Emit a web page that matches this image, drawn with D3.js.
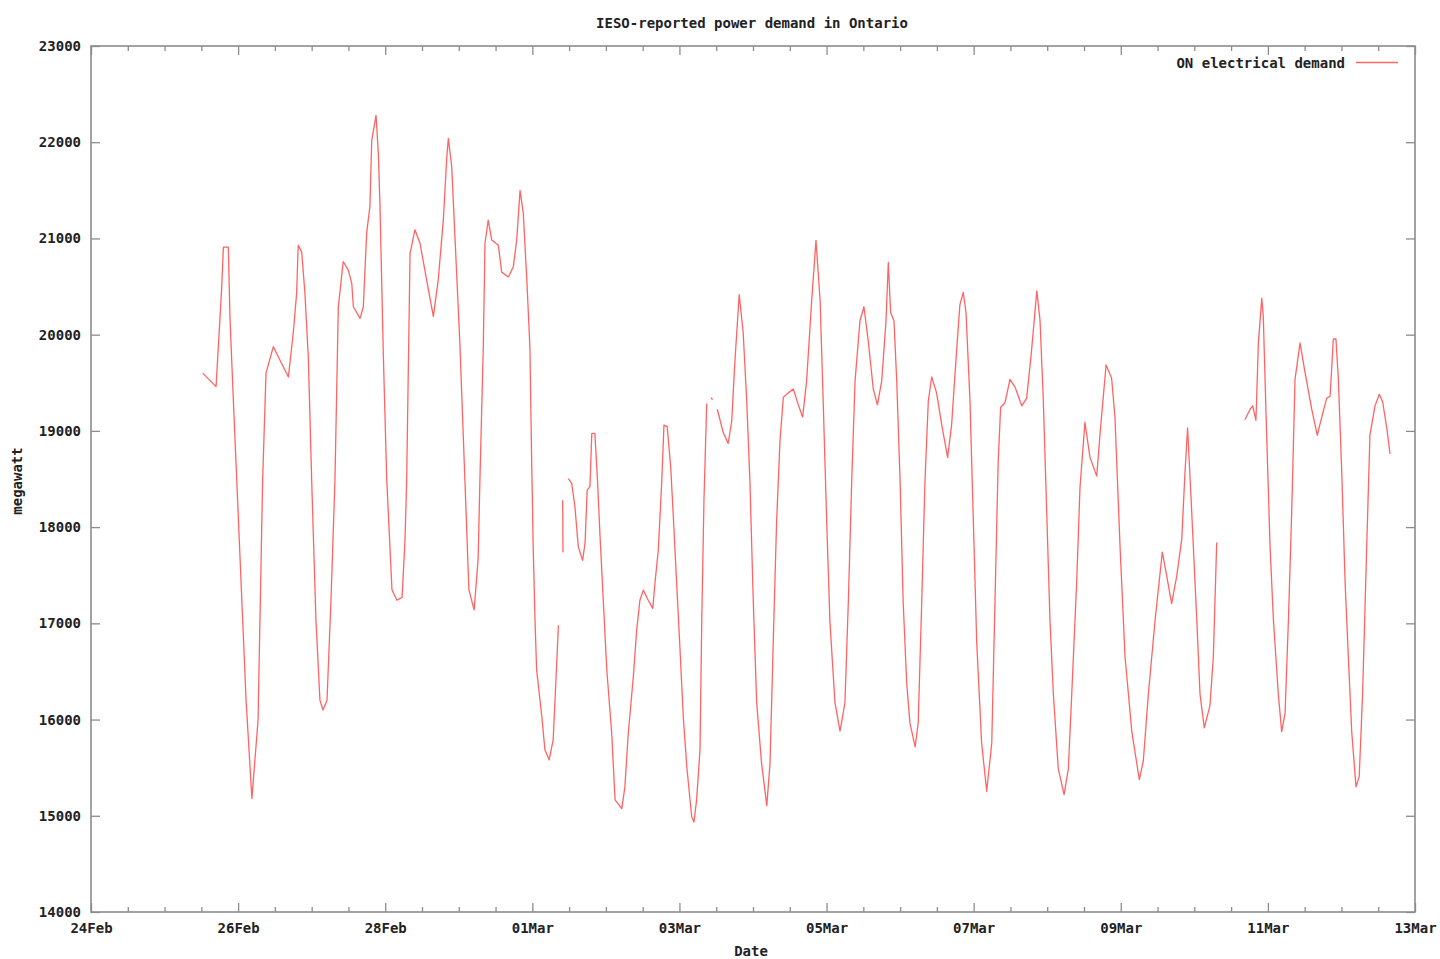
<!DOCTYPE html>
<html>
<head>
<meta charset="utf-8">
<script src="https://cdn.jsdelivr.net/npm/d3@7/dist/d3.min.js"></script>
<style>
  html, body { margin: 0; padding: 0; background: #fff; }
  svg { display: block; }
  text { font-family: "DejaVu Sans Mono", "Liberation Mono", monospace; font-weight: bold; fill: #222; }
</style>
</head>
<body>
<svg id="chart" width="1440" height="959"></svg>
<script>
// ---- Data (hours after 24 Feb 2008 00:00, megawatt) ----
const startDate = "2008-02-24T00:00:00Z";
const endDate = "2008-03-13T00:00:00Z";
const titleText = "IESO-reported power demand in Ontario";
const seriesName = "ON electrical demand";
const xLabel = "Date";
const yLabel = "megawatt";
const yTicks = [14000, 15000, 16000, 17000, 18000, 19000, 20000, 21000, 22000, 23000];
const xTickLabels = ["24Feb", "26Feb", "28Feb", "01Mar", "03Mar", "05Mar", "07Mar", "09Mar", "11Mar", "13Mar"];

const seg1 = [
  [36.45,19600],[40.8,19460],[42.6,20460],[43.2,20910],[44.8,20910],[45.35,20170],[46.4,19355],
  [50.6,16200],[52.5,15180],[54.5,15990],[56.0,18490],[57.1,19600],[59.5,19875],[61.1,19770],
  [64.4,19560],[66.0,20020],[67.1,20430],[67.6,20930],[68.75,20860],[69.8,20430],[70.9,19770],
  [72.0,18490],[73.4,17030],[74.7,16200],[75.7,16100],[77.0,16200],[78.3,17240],[79.6,18490],
  [80.7,20290],[82.3,20760],[83.95,20670],[85.1,20530],[85.6,20290],[87.8,20170],[88.85,20290],
  [89.95,21060],[91.0,21330],[91.6,22020],[93.0,22280],[93.75,21885],[94.3,21330],[95.4,19770],
  [96.5,18490],[98.2,17350],[99.8,17240],[101.5,17270],[102.45,17865],[103.0,18490],[104.1,20845],
  [105.7,21090],[107.35,20950],[109.5,20570],[111.7,20190],[113.3,20570],[114.95,21190],
  [116.1,21850],[116.6,22040],[117.7,21745],[118.8,20985],[120.4,19875],[122.0,18490],
  [123.3,17350],[125.0,17140],[126.3,17660],[126.9,18490],[128.0,19875],[128.55,20950],
  [129.6,21190],[130.75,20985],[132.9,20930],[134.0,20650],[136.2,20600],[137.8,20705],
  [138.9,20985],[140.0,21500],[141.05,21260],[142.2,20570],[143.2,19875],[143.8,18665],
  [144.3,17760],[144.9,17000],[145.4,16515],[147.1,16030],[148.1,15685],[149.5,15580],
  [150.8,15790],[151.4,16200],[152.15,16720],[152.5,16980]
];
const seg2 = [[153.9,18280],[154.0,17740]];
const seg3 = [
  [155.75,18505],[156.85,18455],[157.9,18210],[159.0,17795],[160.4,17655],[161.2,17835],
  [161.9,18385],[162.8,18420],[163.4,18975],[164.4,18975],[165.2,18525],[166.1,17900],
  [167.2,17205],[168.3,16515],[169.9,15855],[171.0,15165],[173.2,15075],[174.2,15300],
  [175.3,15855],[176.95,16445],[178.05,16930],[179.1,17240],[180.2,17345],[181.8,17240],
  [183.3,17155],[184.0,17415],[185.1,17760],[186.2,18455],[186.95,19060],[188.0,19045],
  [189.15,18625],[190.0,18110],[191.1,17415],[192.2,16720],[193.25,16030],[194.4,15510],
  [196.0,14990],[196.75,14935],[197.6,15165],[198.7,15685],[199.3,17070],[200.0,18280],
  [200.9,19285]
];
const seg4 = [[202.3,19345],[202.8,19325]];
const seg5 = [
  [204.35,19225],[206.3,18980],[207.9,18870],[209.05,19100],[210.1,19725],[211.5,20415],
  [212.8,20020],[213.95,19310],[215.0,18470],[216.1,17220],[217.2,16175],[218.8,15545],
  [220.5,15105],[221.55,15545],[222.6,16800],[223.7,18055],[224.8,18895],[225.9,19350],
  [227.5,19395],[229.15,19435],[230.8,19270],[232.2,19145],[233.5,19520],[235.15,20355],
  [236.55,20980],[237.9,20355],[238.9,19310],[240.05,18055],[241.1,17015],[242.75,16175],
  [244.4,15880],[246.0,16175],[247.1,17220],[248.2,18470],[249.3,19520],[250.9,20145],
  [252.2,20290],[253.6,19935],[255.25,19435],[256.6,19270],[258.0,19520],[259.4,20145],
  [260.15,20750],[260.9,20230],[262.0,20145],[262.9,19520],[264.0,18470],[265.0,17220],
  [266.15,16380],[267.2,15965],[268.9,15715],[269.9,15965],[271.05,17220],[272.1,18470],
  [273.2,19310],[274.3,19560],[275.9,19395],[277.6,19060],[279.5,18725],[280.8,19060],
  [282.2,19725],[283.5,20310],[284.6,20440],[285.5,20230],[286.8,19310],[287.9,18055],
  [289.0,16800],[290.6,15755],[292.25,15255],[293.9,15755],[294.95,17220],[296.0,18680],
  [296.8,19245],[298.2,19290],[299.85,19535],[301.5,19455],[303.7,19260],[305.3,19340],
  [306.9,19840],[308.6,20455],[309.65,20150],[310.7,19340],[311.8,18190],[312.9,17035],
  [314.0,16265],[315.6,15490],[317.5,15220],[318.9,15490],[320.0,16265],[321.6,17420],
  [322.7,18415],[324.3,19090],[325.95,18725],[328.15,18530],[329.2,18955],[331.2,19685],
  [333.0,19550],[334.1,19145],[335.75,17805],[337.4,16650],[339.6,15875],[342.05,15375],
  [343.35,15570],[345.0,16265],[347.2,17035],[349.55,17740],[351.0,17490],[352.6,17205],
  [354.25,17490],[355.9,17875],[356.95,18570],[357.8,19030],[359.1,18190],[360.8,17035],
  [361.85,16265],[363.25,15915],[365.1,16145],[366.2,16650],[367.3,17840]
];
const seg6 = [
  [376.5,19115],[378.2,19225],[379.05,19260],[380.1,19110],[380.9,19915],[382.0,20380],
  [382.5,20185],[383.6,18955],[384.7,17805],[385.8,17035],[387.4,16265],[388.5,15875],
  [389.6,16065],[390.7,17035],[391.8,18190],[392.85,19535],[394.5,19915],[396.1,19610],
  [398.3,19225],[400.1,18955],[401.6,19145],[403.2,19340],[404.3,19360],[405.35,19955],
  [406.2,19955],[407.0,19535],[408.1,18570],[409.2,17420],[410.25,16650],[411.35,15875],
  [412.75,15300],[413.8,15410],[414.9,16265],[416.25,17805],[417.3,18955],[418.95,19260],
  [420.35,19380],[421.45,19300],[422.8,19030],[423.85,18760]
];
const segments = [seg1, seg2, seg3, seg4, seg5, seg6];

// ---- Layout ----
const svg = d3.select("#chart");
const plotLeft = 91, plotRight = 1415, plotTop = 46, plotBottom = 912;
const t0 = new Date(startDate), t1 = new Date(endDate);
const x = d3.scaleUtc().domain([t0, t1]).range([plotLeft, plotRight]);
const y = d3.scaleLinear().domain([14000, 23000]).range([plotBottom, plotTop]);

const majorTicks = xTickLabels.map((_, i) => d3.utcDay.offset(t0, 2 * i));
const minorTicks = d3.utcHour.every(12).range(t0, t1).filter(d => !majorTicks.some(m => +m === +d));
const fmt = d => xTickLabels[majorTicks.findIndex(m => +m === +d)];

const axisColor = "#8c8c8c";
function styleAxis(g) {
  g.select(".domain").remove();
  g.selectAll(".tick line").attr("stroke", axisColor).attr("stroke-width", 1.3);
  g.selectAll(".tick text").attr("font-size", 14).attr("fill", "#222")
    .style("font-family", '"DejaVu Sans Mono", monospace').style("font-weight", "bold");
}

// Bottom axis
svg.append("g").attr("transform", `translate(0,${plotBottom})`)
  .call(d3.axisBottom(x).tickValues(majorTicks).tickFormat(fmt).tickSizeInner(-9).tickSizeOuter(0).tickPadding(11))
  .call(styleAxis);
svg.append("g").attr("transform", `translate(0,${plotBottom})`)
  .call(d3.axisBottom(x).tickValues(minorTicks).tickFormat("").tickSizeInner(-5).tickSizeOuter(0))
  .call(styleAxis);
// Top axis (mirror)
svg.append("g").attr("transform", `translate(0,${plotTop})`)
  .call(d3.axisTop(x).tickValues(majorTicks).tickFormat("").tickSizeInner(-9).tickSizeOuter(0))
  .call(styleAxis);
svg.append("g").attr("transform", `translate(0,${plotTop})`)
  .call(d3.axisTop(x).tickValues(minorTicks).tickFormat("").tickSizeInner(-5).tickSizeOuter(0))
  .call(styleAxis);
// Left axis
svg.append("g").attr("transform", `translate(${plotLeft},0)`)
  .call(d3.axisLeft(y).tickValues(yTicks).tickFormat(d3.format("d")).tickSizeInner(-9).tickSizeOuter(0).tickPadding(10))
  .call(styleAxis);
// Right axis (mirror)
svg.append("g").attr("transform", `translate(${plotRight},0)`)
  .call(d3.axisRight(y).tickValues(yTicks).tickFormat("").tickSizeInner(-9).tickSizeOuter(0))
  .call(styleAxis);

// Border
svg.append("rect")
  .attr("x", plotLeft).attr("y", plotTop).attr("width", plotRight - plotLeft).attr("height", plotBottom - plotTop)
  .attr("fill", "none").attr("stroke", axisColor).attr("stroke-width", 1.6);

// Data line
const lineColor = "#ff6464";
const line = d3.line().x(d => x(d3.utcMinute.offset(t0, Math.round(d[0] * 60)))).y(d => y(d[1]));
svg.append("g").selectAll("path").data(segments).join("path")
  .attr("d", line).attr("fill", "none").attr("stroke", lineColor)
  .attr("stroke-width", 1.3).attr("stroke-linejoin", "round");

// Titles
svg.append("text").attr("x", 752).attr("y", 23).attr("dy", "0.35em")
  .attr("text-anchor", "middle").attr("font-size", 14).text(titleText);
svg.append("text").attr("x", 751).attr("y", 951).attr("dy", "0.35em")
  .attr("text-anchor", "middle").attr("font-size", 14).text(xLabel);
svg.append("text").attr("transform", "translate(17,481) rotate(-90)").attr("dy", "0.35em")
  .attr("text-anchor", "middle").attr("font-size", 14).text(yLabel);

// Legend
svg.append("text").attr("x", 1345).attr("y", 63).attr("dy", "0.35em")
  .attr("text-anchor", "end").attr("font-size", 14).text(seriesName);
svg.append("line").attr("x1", 1356).attr("x2", 1398).attr("y1", 62.5).attr("y2", 62.5)
  .attr("stroke", lineColor).attr("stroke-width", 1.3);
</script>
</body>
</html>
